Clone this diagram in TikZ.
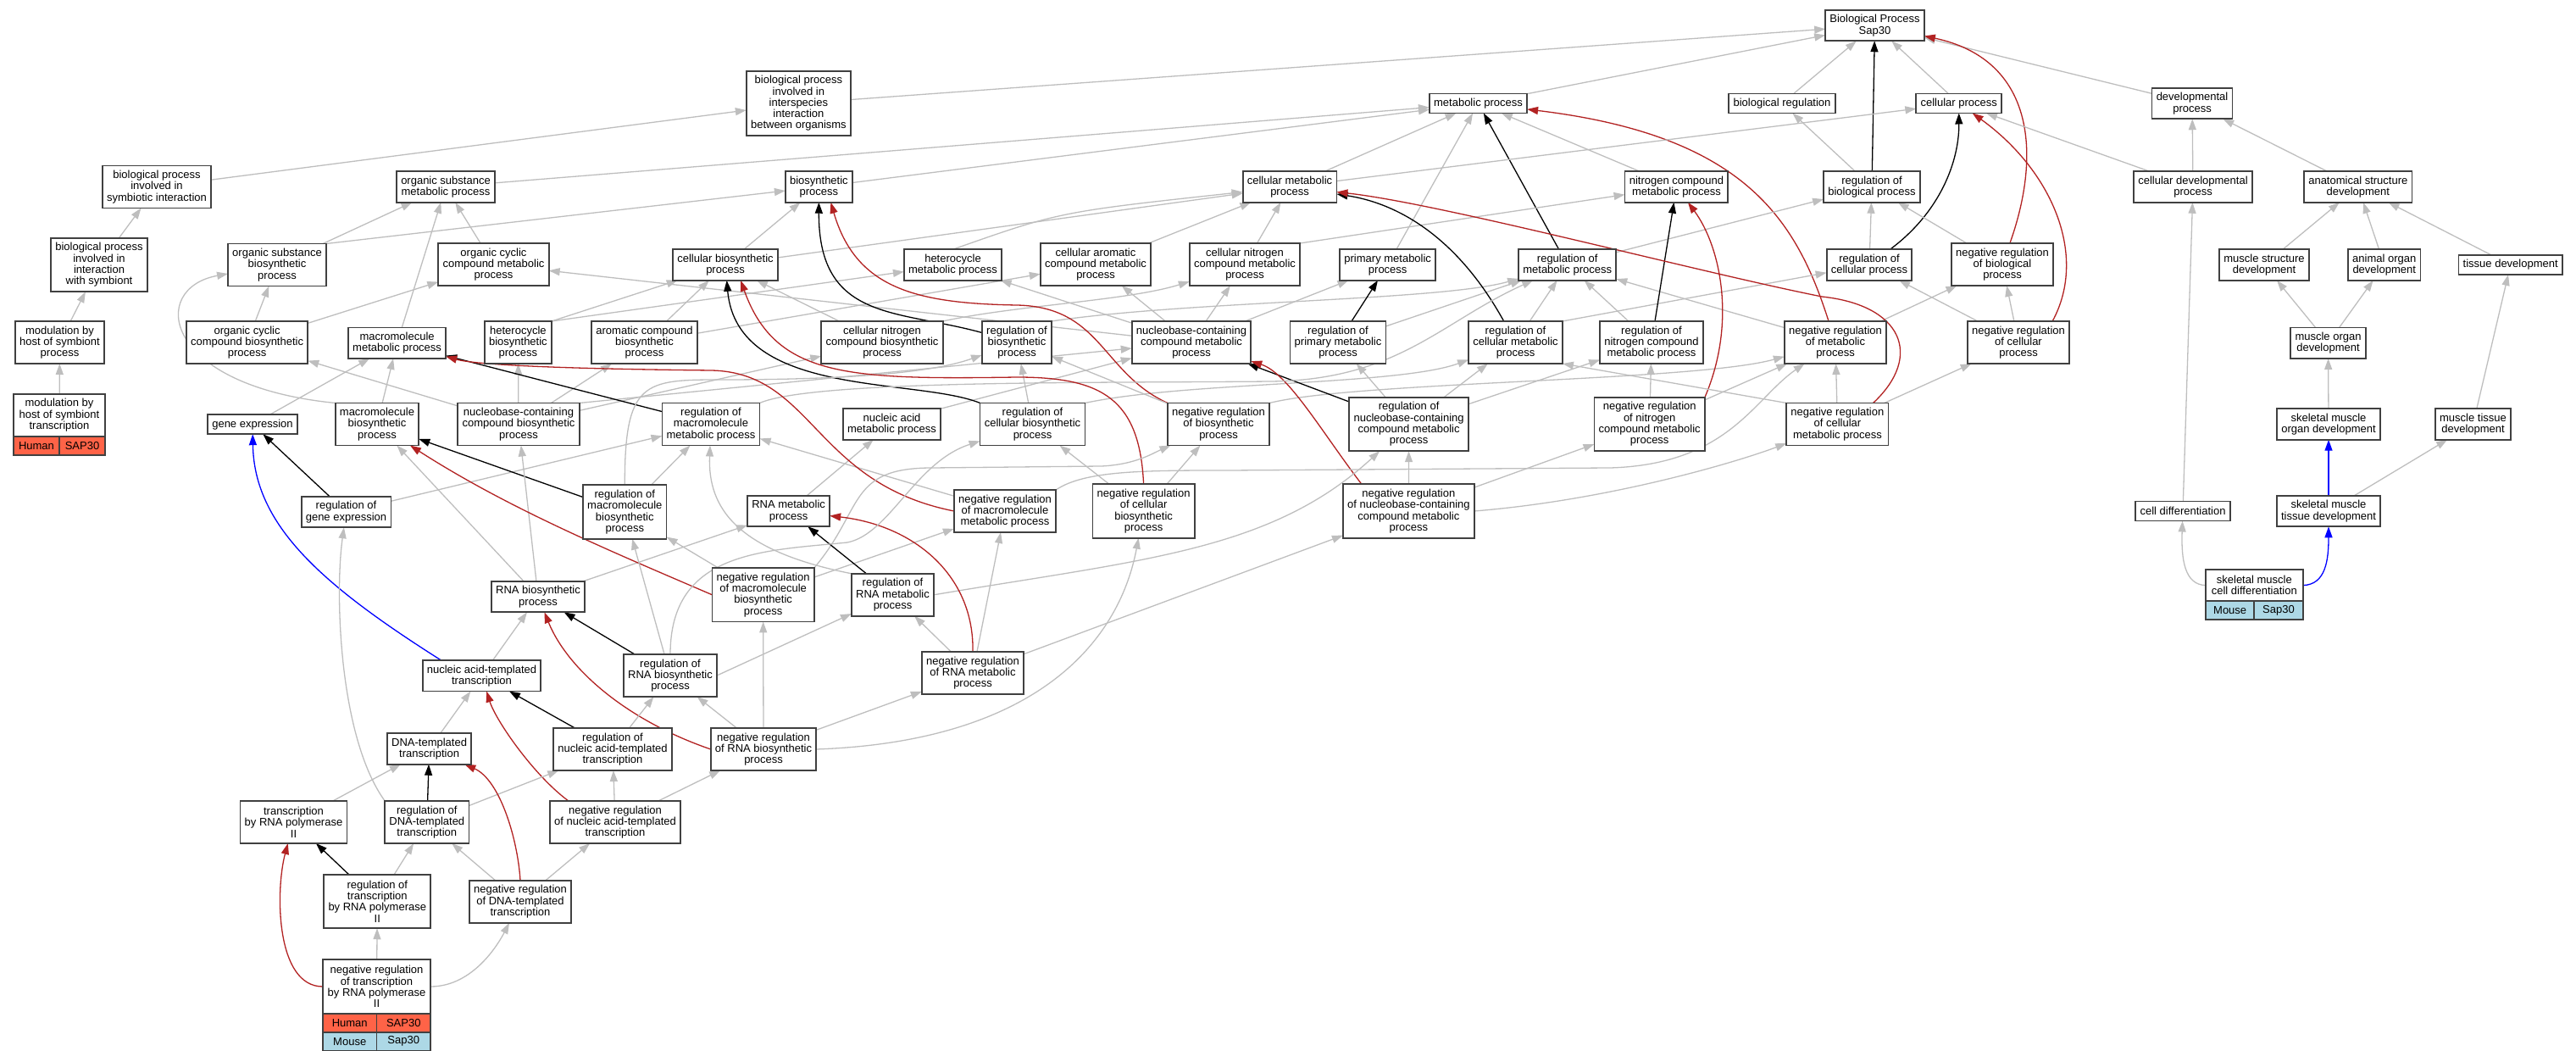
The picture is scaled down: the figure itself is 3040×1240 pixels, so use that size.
\documentclass[tikz,border=0pt]{standalone}
\usepackage{fontspec}
\setmainfont{Liberation Sans}
\usetikzlibrary{arrows.meta,backgrounds}
\definecolor{isagray}{HTML}{BEBEBE}
\definecolor{negred}{HTML}{B22222}
\definecolor{humanred}{HTML}{FF6347}
\definecolor{mouseblue}{HTML}{ADD8E6}

\begin{document}
\begin{tikzpicture}[x=0.5pt,y=-0.5pt,
    term/.style={draw=black!75,line width=0.9pt,fill=white,align=center,inner xsep=2.6pt,inner ysep=1pt,outer sep=0pt,font=\fontsize{6.5}{6.65}\selectfont},
    l1/.style={term,minimum height=11.5pt},
    l2/.style={term,minimum height=18.25pt},
    l3/.style={term,minimum height=25pt},
    l4/.style={term,minimum height=31.65pt},
    l5/.style={term,minimum height=38.3pt},
    cell/.style={term,minimum height=11pt,inner xsep=0pt,anchor=north west},
    link/.style={line width=0.65pt,-{Triangle[length=6.5pt,width=4.5pt]}},
    isa/.style={link,isagray},
    reg/.style={link,black},
    negreg/.style={link,negred},
    partof/.style={link,blue}]
    \useasboundingbox (0,0) rectangle (3040,1240);
    % the terms, row by row
    \node[l2] (bp) at (2212.5,30) {Biological Process\\Sap30};
    \node[l5] (interspecies) at (942.4,122) {biological process\\involved in\\interspecies\\interaction\\between organisms};
    \node[l1] (metab) at (1744.5,122) {metabolic process};
    \node[l1] (bioreg) at (2103,122) {biological regulation};
    \node[l1] (cellproc) at (2311.7,122) {cellular process};
    \node[l2] (devproc) at (2587,122) {developmental\\process};
    \node[l3] (symb) at (185,220.5) {biological process\\involved in\\symbiotic interaction};
    \node[l2] (orgsubmet) at (526,220.5) {organic substance\\metabolic process};
    \node[l2] (biosyn) at (966.4,220.5) {biosynthetic\\process};
    \node[l2] (cellmet) at (1522,220.5) {cellular metabolic\\process};
    \node[l2] (nitmet) at (1978.4,220.5) {nitrogen compound\\metabolic process};
    \node[l2] (regbio) at (2209,220.5) {regulation of\\biological process};
    \node[l2] (celldev) at (2588,220.5) {cellular developmental\\process};
    \node[l2] (anatdev) at (2782.8,220.5) {anatomical structure\\development};
    \node[l4] (intsym) at (117,312.5) {biological process\\involved in\\interaction\\with symbiont};
    \node[l3] (orgsubbio) at (327,312.5) {organic substance\\biosynthetic\\process};
    \node[l3] (orgcycmet) at (582.5,312) {organic cyclic\\compound metabolic\\process};
    \node[l2] (cellbio) at (856,312.5) {cellular biosynthetic\\process};
    \node[l2] (hetmet) at (1124.5,312.5) {heterocycle\\metabolic process};
    \node[l3] (cellarom) at (1293,312) {cellular aromatic\\compound metabolic\\process};
    \node[l3] (cellnitmet) at (1469,312) {cellular nitrogen\\compound metabolic\\process};
    \node[l2] (primmet) at (1637.7,312.5) {primary metabolic\\process};
    \node[l2] (regmet) at (1849.7,312.5) {regulation of\\metabolic process};
    \node[l2] (regcell) at (2206,312.5) {regulation of\\cellular process};
    \node[l3] (negbio) at (2363,312) {negative regulation\\of biological\\process};
    \node[l2] (musstr) at (2672,312.5) {muscle structure\\development};
    \node[l2] (animorg) at (2813.7,312.5) {animal organ\\development};
    \node[l1] (tissdev) at (2962.7,312.5) {tissue development};
    \node[l3] (modproc) at (70.5,404) {modulation by\\host of symbiont\\process};
    \node[l3] (orgcycbio) at (291.6,404) {organic cyclic\\compound biosynthetic\\process};
    \node[l2] (macmet) at (468.6,404.7) {macromolecule\\metabolic process};
    \node[l3] (hetbio) at (611.4,404) {heterocycle\\biosynthetic\\process};
    \node[l3] (arombio) at (760.5,404) {aromatic compound\\biosynthetic\\process};
    \node[l3] (cellnitbio) at (1041,404) {cellular nitrogen\\compound biosynthetic\\process};
    \node[l3] (regbiosyn) at (1200,404) {regulation of\\biosynthetic\\process};
    \node[l3] (nucmet) at (1406,404) {nucleobase-containing\\compound metabolic\\process};
    \node[l3] (regprim) at (1579,404) {regulation of\\primary metabolic\\process};
    \node[l3] (regcellmet) at (1788.5,404) {regulation of\\cellular metabolic\\process};
    \node[l3] (regnitmet) at (1949,404) {regulation of\\nitrogen compound\\metabolic process};
    \node[l3] (negmet) at (2166,404) {negative regulation\\of metabolic\\process};
    \node[l3] (negcell) at (2382,404) {negative regulation\\of cellular\\process};
    \node[l2] (musorg) at (2747.5,404.7) {muscle organ\\development};
    \node[l3,minimum width=54pt] (modtx) at (70,489.7) {modulation by\\host of symbiont\\transcription};
    \node[cell,fill=humanred,minimum width=27pt] (modtxA) at (modtx.south west) {Human};
    \node[cell,fill=humanred,minimum width=27pt] (modtxB) at (modtxA.north east) {SAP30};
    \node[l1] (geneexp) at (298,500.7) {gene expression};
    \node[l3] (macbio) at (445,500.5) {macromolecule\\biosynthetic\\process};
    \node[l3] (nucbio) at (612,500.5) {nucleobase-containing\\compound biosynthetic\\process};
    \node[l3] (regmacmet) at (839,500.5) {regulation of\\macromolecule\\metabolic process};
    \node[l2] (nucacmet) at (1052.5,500.5) {nucleic acid\\metabolic process};
    \node[l3] (regcellbio) at (1218.5,500.5) {regulation of\\cellular biosynthetic\\process};
    \node[l3] (negbiosyn) at (1438,500.5) {negative regulation\\of biosynthetic\\process};
    \node[l4] (regnucmet) at (1662.6,500.5) {regulation of\\nucleobase-containing\\compound metabolic\\process};
    \node[l4] (negnitmet) at (1946.7,500.5) {negative regulation\\of nitrogen\\compound metabolic\\process};
    \node[l3] (negcellmet) at (2168.4,500.5) {negative regulation\\of cellular\\metabolic process};
    \node[l2] (skmorg) at (2748,500.5) {skeletal muscle\\organ development};
    \node[l2] (mustiss) at (2918.5,500.5) {muscle tissue\\development};
    \node[l2] (reggene) at (408.5,604) {regulation of\\gene expression};
    \node[l4] (regmacbio) at (737.3,604) {regulation of\\macromolecule\\biosynthetic\\process};
    \node[l2] (rnamet) at (930.6,603) {RNA metabolic\\process};
    \node[l3] (negmacmet) at (1186,603) {negative regulation\\of macromolecule\\metabolic process};
    \node[l4] (negcellbio) at (1349.6,603) {negative regulation\\of cellular\\biosynthetic\\process};
    \node[l4] (negnucmet) at (1662.4,603) {negative regulation\\of nucleobase-containing\\compound metabolic\\process};
    \node[l1] (celldiff) at (2576,603) {cell differentiation};
    \node[l2] (skmtiss) at (2748,603) {skeletal muscle\\tissue development};
    \node[l2] (rnabio) at (635,704) {RNA biosynthetic\\process};
    \node[l4] (negmacbio) at (900.6,701.8) {negative regulation\\of macromolecule\\biosynthetic\\process};
    \node[l3] (regrnamet) at (1053.5,701.8) {regulation of\\RNA metabolic\\process};
    \node[l2,minimum width=57.3pt] (skmcell) at (2660.3,690.6) {skeletal muscle\\cell differentiation};
    \node[cell,fill=mouseblue,minimum width=28.65pt] (skmcellA) at (skmcell.south west) {Mouse};
    \node[cell,fill=mouseblue,minimum width=28.65pt] (skmcellB) at (skmcellA.north east) {Sap30};
    \node[l2] (natx) at (568.5,797.3) {nucleic acid-templated\\transcription};
    \node[l3] (regrnabio) at (791,797) {regulation of\\RNA biosynthetic\\process};
    \node[l3] (negrnamet) at (1148,794) {negative regulation\\of RNA metabolic\\process};
    \node[l2] (dnatx) at (506.6,883.5) {DNA-templated\\transcription};
    \node[l3] (regnatx) at (723,884) {regulation of\\nucleic acid-templated\\transcription};
    \node[l3] (negrnabio) at (901,884) {negative regulation\\of RNA biosynthetic\\process};
    \node[l3] (txpol) at (346.5,970) {transcription\\by RNA polymerase\\II};
    \node[l3] (regdnatx) at (503.8,970) {regulation of\\DNA-templated\\transcription};
    \node[l3] (negnatx) at (726,970) {negative regulation\\of nucleic acid-templated\\transcription};
    \node[l4] (regtxpol) at (445.3,1063.6) {regulation of\\transcription\\by RNA polymerase\\II};
    \node[l3] (negdnatx) at (614,1063.8) {negative regulation\\of DNA-templated\\transcription};
    \node[l4,minimum width=63.5pt] (negtxpol) at (444.5,1164) {negative regulation\\of transcription\\by RNA polymerase\\II};
    \node[cell,fill=humanred,minimum width=31.75pt] (negtxpolA) at (negtxpol.south west) {Human};
    \node[cell,fill=humanred,minimum width=31.75pt] (negtxpolB) at (negtxpolA.north east) {SAP30};
    \node[cell,fill=mouseblue,minimum width=31.75pt] (negtxpolC) at (negtxpolA.south west) {Mouse};
    \node[cell,fill=mouseblue,minimum width=31.75pt] (negtxpolD) at (negtxpolC.north east) {Sap30};
    \begin{scope}[on background layer]
    % top of the tree
    \draw[isa] (metab) -- (bp);
    \draw[isa] (bioreg) -- (bp);
    \draw[isa] (cellproc) -- (bp);
    \draw[isa] (devproc) -- (bp);
    \draw[isa] (interspecies) -- (bp);
    \draw[reg] (regbio) -- (bp);
    \draw[negreg] (negbio) .. controls (2410,180) and (2400,70) .. (bp);
    \draw[isa] (regbio) -- (bioreg);
    \draw[isa] (symb) -- (interspecies);
    \draw[isa] (intsym) -- (symb);
    \draw[isa] (modproc) -- (intsym);
    \draw[isa] (modtx) -- (modproc);
    % metabolic process and cellular process
    \draw[isa] (orgsubmet) -- (metab);
    \draw[isa] (biosyn) -- (metab);
    \draw[isa] (cellmet) -- (metab);
    \draw[isa] (nitmet) -- (metab);
    \draw[isa] (primmet) -- (metab);
    \draw[reg] (regmet) -- (metab);
    \draw[negreg] (negmet) .. controls (2120,260) and (2060,160) .. (metab);
    \draw[isa] (cellmet) -- (cellproc);
    \draw[isa] (celldev) -- (cellproc);
    \draw[reg] (regcell) .. controls (2290,250) and (2312,190) .. (cellproc);
    \draw[negreg] ([xshift=-10pt]negcell.north east) .. controls (2465,300) and (2420,200) .. (cellproc);
    \draw[isa] (regcell) -- (regbio);
    \draw[isa] (negbio) -- (regbio);
    \draw[isa] (regmet) -- (regbio);
    \draw[isa] (negcell) -- (regcell);
    \draw[isa] (negcell) -- (negbio);
    \draw[isa] (negmet) -- (negbio);
    \draw[isa] (negmet) -- (regmet);
    % development
    \draw[isa] (celldev) -- (devproc);
    \draw[isa] (anatdev) -- (devproc);
    \draw[isa] (musstr) -- (anatdev);
    \draw[isa] (animorg) -- (anatdev);
    \draw[isa] (tissdev) -- (anatdev);
    \draw[isa] (musorg) -- (musstr);
    \draw[isa] (musorg) -- (animorg);
    \draw[isa] (skmorg) -- (musorg);
    \draw[isa] (mustiss) -- (tissdev);
    \draw[partof] (skmtiss) -- (skmorg);
    \draw[isa] (skmtiss) -- (mustiss);
    \draw[isa] (celldiff) -- (celldev);
    \draw[isa] (skmcell.west) .. controls (2578,690) and (2574,660) .. (celldiff);
    \draw[partof] (skmcell.east) .. controls (2745,690) and (2748,660) .. (skmtiss);
    % organic substance and biosynthesis
    \draw[isa] (orgsubbio) -- (orgsubmet);
    \draw[isa] (orgsubbio.north east) -- (biosyn);
    \draw[isa] (orgcycmet) -- (orgsubmet);
    \draw[isa] (orgcycbio) -- (orgcycmet);
    \draw[isa] (orgcycbio) -- (orgsubbio);
    \draw[isa] (macmet) -- (orgsubmet);
    \draw[isa] (macbio) -- (macmet);
    \draw[isa] (macbio.north west) .. controls (190,455) and (175,340) .. (orgsubbio);
    \draw[isa] (geneexp) -- (macmet);
    \draw[isa] (cellbio) -- (biosyn);
    \draw[isa] (cellbio) -- (cellmet);
    \draw[isa] (hetbio.north east) -- (hetmet);
    \draw[isa] (hetbio.north east) -- (cellbio);
    \draw[isa] (arombio) -- (cellbio);
    \draw[isa] (arombio) -- (cellarom);
    \draw[isa] (nucbio) -- (hetbio);
    \draw[isa] (nucbio) -- (arombio);
    \draw[isa] (nucbio) -- (cellnitbio);
    \draw[isa] (nucbio) -- (orgcycbio);
    \draw[isa] (nucbio.north east) -- (nucmet);
    \draw[isa] (cellnitbio) -- (cellbio);
    \draw[isa] (cellnitbio.north east) .. controls (1200,360) and (1330,355) .. (cellnitmet);
    \draw[isa] (hetmet.north) .. controls (1250,250) .. (cellmet);
    \draw[isa] (cellarom) -- (cellmet);
    \draw[isa] (cellnitmet) -- (cellmet);
    \draw[isa] (cellnitmet.north east) -- (nitmet);
    \draw[isa] (nucmet) -- (orgcycmet);
    \draw[isa] (nucmet) -- (hetmet);
    \draw[isa] (nucmet) -- (cellarom);
    \draw[isa] (nucmet) -- (cellnitmet);
    \draw[isa] (nucmet) -- (primmet);
    \draw[isa] (nucacmet.north east) -- (nucmet);
    \draw[isa] (rnamet) -- (nucacmet);
    % regulation of metabolism
    \draw[reg] (regbiosyn) .. controls (1060,365) and (966,380) .. (biosyn);
    \draw[isa] (regbiosyn.north east) .. controls (1400,355) and (1700,355) .. (regmet);
    \draw[reg] (regprim) -- (primmet);
    \draw[isa] (regprim) -- (regmet);
    \draw[reg] (regcellmet) .. controls (1720,280) and (1650,240) .. (cellmet);
    \draw[isa] (regcellmet) -- (regmet);
    \draw[isa] (regcellmet.north east) -- (regcell);
    \draw[reg] (regnitmet) -- (nitmet);
    \draw[isa] (regnitmet) -- (regmet);
    \draw[isa] (regcellbio) -- (regbiosyn);
    \draw[isa] (regcellbio.north east) .. controls (1400,450) and (1650,455) .. (regcellmet);
    \draw[reg] (regcellbio.north west) .. controls (1080,445) and (870,470) .. (cellbio);
    \draw[negreg] (negbiosyn.north west) .. controls (1300,440) and (1300,362) .. (1200,360) .. controls (1080,358) and (1010,340) .. ([xshift=7pt]biosyn.south);
    \draw[isa] (negbiosyn) -- (regbiosyn);
    \draw[isa] (negbiosyn.north east) .. controls (1600,450) and (2000,450) .. (negmet);
    \draw[reg] (regnucmet) -- (nucmet);
    \draw[isa] (regnucmet) -- (regprim);
    \draw[isa] (regnucmet) -- (regcellmet);
    \draw[isa] (regnucmet) -- (regnitmet);
    \draw[isa] (negnitmet) -- (regnitmet);
    \draw[negreg] (negnitmet.north east) .. controls (2050,380) and (2030,290) .. (nitmet);
    \draw[isa] (negnitmet) -- (negmet);
    \draw[isa] (negcellmet.north west) -- (regcellmet.south east);
    \draw[isa] (negcellmet) -- (negmet);
    \draw[isa] (negcellmet) -- (negcell);
    \draw[negreg] ([xshift=-9pt]negcellmet.north east) .. controls (2270,420) and (2245,360) .. (2150,350) .. controls (2000,320) and (1700,240) .. (cellmet);
    \draw[isa] (negnucmet) -- (regnucmet);
    \draw[negreg] ([xshift=11pt]negnucmet.north west) .. controls (1560,510) and (1520,440) .. (nucmet);
    \draw[isa] (negnucmet) -- (negnitmet);
    \draw[isa] (negnucmet.east) .. controls (1900,590) and (2050,545) .. (negcellmet);
    % macromolecules
    \draw[reg] (regmacmet) -- (macmet);
    \draw[isa] (regmacmet.north east) .. controls (960,448) and (1300,452) .. (1500,450) .. controls (1650,448) and (1700,380) .. (regmet);
    \draw[isa] (reggene) -- (regmacmet);
    \draw[reg] (reggene) -- (geneexp);
    \draw[reg] (regmacbio) -- (macbio);
    \draw[isa] (regmacbio) -- (regmacmet);
    \draw[isa] (regmacbio.north) .. controls (737,450) and (760,448) .. (850,448) .. controls (1000,448) and (1100,440) .. (regbiosyn);
    \draw[isa] (negmacmet) -- (regmacmet);
    \draw[negreg] (negmacmet.west) .. controls (960,570) and (960,440) .. (840,437) .. controls (650,435) and (560,430) .. (macmet);
    \draw[isa] (negmacmet.north east) .. controls (1280,555) and (1350,555) .. (1450,555) -- (1900,552) .. controls (2040,548) and (2070,470) .. (negmet);
    \draw[isa] (negcellbio) -- (regcellbio);
    \draw[isa] (negcellbio) -- (negbiosyn);
    \draw[negreg] (negcellbio.north) .. controls (1345,470) and (1300,445) .. (1200,445) .. controls (1000,448) and (915,445) .. ([xshift=9pt]cellbio.south);
    % RNA
    \draw[isa] (rnabio) -- (rnamet);
    \draw[isa] (rnabio) -- (nucbio);
    \draw[isa] (rnabio) -- (macbio);
    \draw[isa] (negmacbio) -- (regmacbio);
    \draw[negreg] (negmacbio.west) .. controls (720,650) and (600,600) .. (macbio);
    \draw[isa] (negmacbio) -- (negmacmet);
    \draw[isa] (negmacbio.north east) .. controls (1020,600) and (1000,552) .. (1100,552) -- (1300,550) .. controls (1340,548) and (1360,535) .. (negbiosyn);
    \draw[reg] (regrnamet) -- (rnamet);
    \draw[isa] (regrnamet.north west) .. controls (870,650) and (835,600) .. (regmacmet);
    \draw[isa] (regrnamet.east) .. controls (1350,660) and (1500,650) .. (regnucmet);
    \draw[isa] (negrnamet) -- (regrnamet);
    \draw[negreg] (negrnamet.north) .. controls (1150,680) and (1080,620) .. (rnamet);
    \draw[isa] (negrnamet) -- (negmacmet);
    \draw[isa] (negrnamet) -- (negnucmet);
    \draw[reg] (regrnabio) -- (rnabio);
    \draw[isa] (regrnabio.east) -- (regrnamet);
    \draw[isa] (regrnabio) -- (regmacbio);
    \draw[isa] (regrnabio.north) .. controls (791,650) and (900,650) .. (1000,640) .. controls (1050,630) and (1080,545) .. (regcellbio);
    \draw[negreg] (negrnabio.west) .. controls (740,850) and (670,790) .. (rnabio);
    \draw[isa] (negrnabio) -- (regrnabio);
    \draw[isa] (negrnabio) -- (negrnamet);
    \draw[isa] (negrnabio) -- (negmacbio);
    \draw[isa] (negrnabio.east) .. controls (1220,875) and (1320,760) .. (negcellbio);
    % transcription
    \draw[isa] (natx) -- (rnabio);
    \draw[partof] ([xshift=11pt]natx.north west) .. controls (380,690) and (300,620) .. (geneexp);
    \draw[reg] (regnatx) -- (natx);
    \draw[isa] (regnatx) -- (regrnabio);
    \draw[isa] (negnatx) -- (regnatx);
    \draw[negreg] ([xshift=11pt]negnatx.north west) .. controls (630,915) and (585,850) .. (natx);
    \draw[isa] (negnatx) -- (negrnabio);
    \draw[isa] (dnatx) -- (natx);
    \draw[isa] (txpol) -- (dnatx);
    \draw[reg] (regdnatx) -- (dnatx);
    \draw[isa] (regdnatx) -- (regnatx);
    \draw[isa] (regdnatx.north west) .. controls (400,870) and (395,700) .. (reggene);
    \draw[isa] (negdnatx) -- (regdnatx);
    \draw[negreg] (negdnatx.north) .. controls (611,990) and (590,920) .. (dnatx);
    \draw[isa] (negdnatx) -- (negnatx);
    \draw[reg] (regtxpol) -- (txpol);
    \draw[isa] (regtxpol) -- (regdnatx);
    \draw[isa] (negtxpol) -- (regtxpol);
    \draw[negreg] (negtxpol.west) .. controls (325,1164) and (325,1050) .. (txpol);
    \draw[isa] (negtxpol.east) .. controls (560,1164) and (590,1110) .. (negdnatx);
    \end{scope}
\end{tikzpicture}
\end{document}
